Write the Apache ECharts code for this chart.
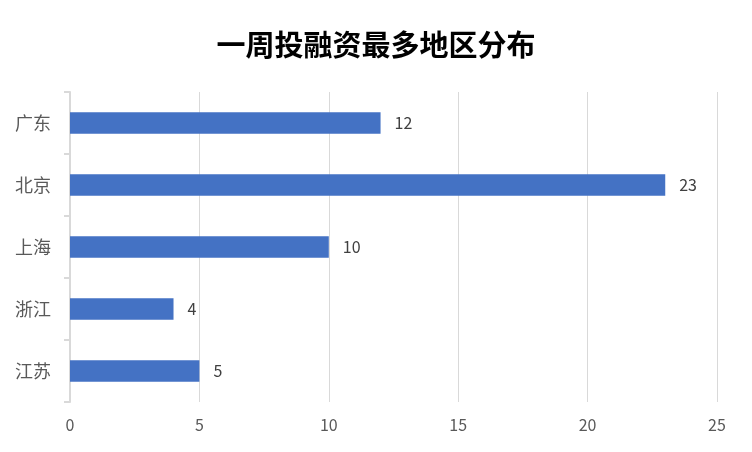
<!DOCTYPE html>
<html><head><meta charset="utf-8">
<script src="https://cdn.jsdelivr.net/npm/echarts@6/dist/echarts.min.js"></script>
<style>html,body{margin:0;padding:0;background:#fff}#c{width:752px;height:452px}</style>
</head><body><div id="c"></div>
<script>
const categories = ['广东', '北京', '上海', '浙江', '江苏'];
const values = [12, 23, 10, 4, 5];
const xTicks = { min: 0, max: 25, interval: 5 };
const titleText = '一周投融资最多地区分布';

const font = '"Noto Sans CJK SC", "Noto Sans", sans-serif';
const chart = echarts.init(document.getElementById('c'));
chart.setOption({
  animation: false,
  title: { text: titleText, left: 'center', top: 25,
    textStyle: { fontFamily: font, fontWeight: 'bold', fontSize: 29, color: '#000' } },
  grid: { left: 70, right: 35, top: 92, bottom: 50 },
  xAxis: { type: 'value', min: xTicks.min, max: xTicks.max, interval: xTicks.interval,
    axisLine: { show: false }, axisTick: { show: false },
    splitLine: { lineStyle: { color: '#d9d9d9', width: 1 } },
    axisLabel: { fontFamily: font, fontSize: 16, color: '#595959', margin: 15 } },
  yAxis: { type: 'category', data: categories.slice().reverse(),
    axisLine: { lineStyle: { color: '#d9d9d9', width: 2 } },
    axisTick: { show: true, length: 6, lineStyle: { color: '#d9d9d9', width: 2 } },
    axisLabel: { fontFamily: font, fontSize: 18, color: '#595959', margin: 19 } },
  series: [{ type: 'bar', data: values.slice().reverse(), barWidth: '35%',
    itemStyle: { color: '#4472c4' },
    label: { show: true, position: 'right', distance: 14, fontFamily: font, fontSize: 16, color: '#404040' } }]
});
</script></body></html>
